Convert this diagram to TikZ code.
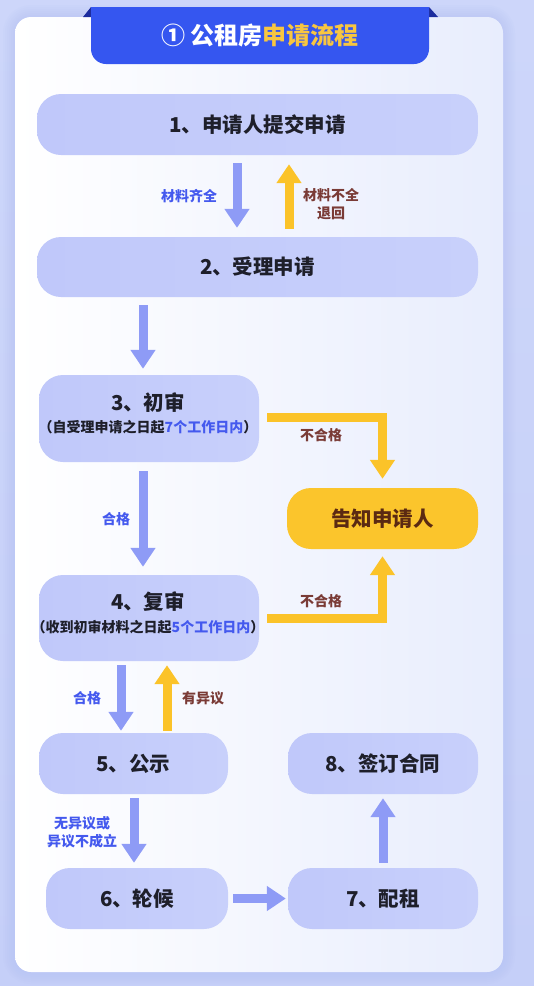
\documentclass[tikz,border=0pt]{standalone}
\usepackage{fontspec}
\setmainfont{Noto Sans CJK SC}
\usetikzlibrary{arrows.meta,calc}
\definecolor{bgblue}{HTML}{C5CFF8}
\definecolor{bgtop}{HTML}{CDD6FA}
\definecolor{boxfill}{HTML}{C0C8FA}
\definecolor{boxfill2}{HTML}{C8D0FB}
\definecolor{arrowblue}{HTML}{8E9BF6}
\definecolor{arrowyellow}{HTML}{FBC329}
\definecolor{labelblue}{HTML}{4459EE}
\definecolor{labelbrown}{HTML}{7A3B36}
\definecolor{notifyfill}{HTML}{FBC52C}
\definecolor{notifytext}{HTML}{5B2A12}
\definecolor{tabblue}{HTML}{3556F0}
\definecolor{tabdark}{HTML}{1C2C9E}
\definecolor{titleyellow}{HTML}{F8C640}
\definecolor{textdark}{HTML}{1E1F2A}
\definecolor{cardend}{HTML}{E8EDFD}
\definecolor{glow}{HTML}{AFBDF5}
\tikzset{
  stepbox/.style={rectangle, rounded corners=24pt, left color=boxfill, right color=boxfill2,
    draw=none, text=textdark, font=\fontsize{20.5}{23}\selectfont\bfseries, align=center, inner sep=0pt},
  notifybox/.style={rectangle, rounded corners=24pt, fill=notifyfill, draw=none, text=notifytext,
    font=\fontsize{20.5}{23}\selectfont\bfseries, inner sep=0pt},
  barrow/.style={draw=arrowblue, line width=9pt, -{Triangle[width=24pt,length=19pt]}},
  yarrow/.style={draw=arrowyellow, line width=9pt, -{Triangle[width=24pt,length=19pt]}, line join=miter},
  bluelbl/.style={text=labelblue, font=\fontsize{14}{18}\selectfont\bfseries, inner sep=0pt, align=center},
  brownlbl/.style={text=labelbrown, font=\fontsize{14}{18}\selectfont\bfseries, inner sep=0pt, align=center},
  subtxt/.style={font=\fontsize{14}{16}\selectfont\bfseries}
}
\begin{document}
\begin{tikzpicture}[x=1pt,y=-1pt]
\useasboundingbox (0,0) rectangle (534,986);
% background
\shade[top color=bgtop, bottom color=bgblue] (0,0) rectangle (534,986);
% card glow
\foreach \d in {12,10,8,6,4,2}{
  \fill[glow, opacity=0.07, rounded corners=16pt+\d pt] (15-\d,17-\d) rectangle (503+\d,972+\d);
}
% card
\shade[left color=white, right color=cardend, rounded corners=16pt] (15,17) rectangle (503,972);
% title tab
\fill[tabdark] (83,17) -- (91,7) -- (91,17) -- cycle;
\fill[tabdark] (429,7) -- (438,17) -- (429,17) -- cycle;
\fill[tabblue] (91,7) -- (429,7) [rounded corners=15pt] -- (429,64) -- (91,64) [sharp corners] -- cycle;
\node[text=white, font=\fontsize{24}{26}\selectfont\bfseries, inner sep=0pt] (title) at (260,35)
  {①\hspace{5pt}公租房{\color{titleyellow}申请流程}};

% boxes
\node[stepbox, minimum width=441pt, minimum height=61pt] (b1) at (257.5,124.5) {1、申请人提交申请};
\node[stepbox, minimum width=441pt, minimum height=60pt] (b2) at (257.5,267) {2、受理申请};
\node[stepbox, minimum width=220pt, minimum height=87pt] (b3) at (149,418.5) {};
\node[text=textdark, font=\fontsize{20.5}{23}\selectfont\bfseries, inner sep=0pt] (b3t) at (148,403) {3、初审};
\node[text=textdark, subtxt, inner sep=0pt] (b3s) at (148,427.5) {（自受理申请之日起{\color{labelblue}7个工作日内}）};
\node[notifybox, minimum width=191pt, minimum height=61pt] (bn) at (382.5,518.5) {告知申请人};
\node[stepbox, minimum width=220pt, minimum height=86pt] (b4) at (149,618) {};
\node[text=textdark, font=\fontsize{20.5}{23}\selectfont\bfseries, inner sep=0pt] (b4t) at (148,602) {4、复审};
\node[text=textdark, subtxt, inner sep=0pt] (b4s) at (148,627.5) {（收到初审材料之日起{\color{labelblue}5个工作日内}）};
\node[stepbox, minimum width=189pt, minimum height=61pt] (b5) at (133.5,763.5) {5、公示};
\node[stepbox, minimum width=182pt, minimum height=61pt] (b6) at (137,898.5) {6、轮候};
\node[stepbox, minimum width=190pt, minimum height=61pt] (b7) at (383,898.5) {7、配租};
\node[stepbox, minimum width=190pt, minimum height=61pt] (b8) at (383,763.5) {8、签订合同};

% connectors
\draw[barrow] ($(b1.south)+(-20.5,8)$) -- ($(b2.north)+(-20.5,-9)$);
\draw[yarrow] ($(b2.north)+(31.5,-8)$) -- ($(b1.south)+(31.5,9)$);
\draw[barrow] ($(b2.south -| b3.north)+(-6,8)$) -- ($(b3.north)+(-6,-6)$);
\draw[barrow] ($(b3.south)+(-6,9)$) -- ($(b4.north)+(-6,-8)$);
\draw[yarrow] ($(b3.east)+(8,-1.5)$) -| ($(bn.north)+(0,-9)$);
\draw[yarrow] ($(b4.east)+(8,0)$) -| ($(bn.south)+(0,7)$);
\draw[barrow] ($(b4.south -| b5.north)+(-12.5,4)$) -- ($(b5.north)+(-12.5,-2)$);
\draw[yarrow] ($(b5.north)+(33.5,-2)$) -- ($(b4.south -| b5.north)+(33.5,4)$);
\draw[barrow] ($(b5.south)+(0.5,4)$) -- ($(b6.north)+(-3,-5)$);
\draw[barrow] ($(b6.east)+(5,0)$) -- ($(b7.west)+(-2,0)$);
\draw[barrow] ($(b7.north)+(0,-5)$) -- ($(b8.south)+(0,4)$);

% labels
\node[bluelbl] (l1) at (189,196) {材料齐全};
\node[brownlbl] (l2) at (331,204) {材料不全\\退回};
\node[brownlbl] (l3) at (321,435) {不合格};
\node[bluelbl] (l4) at (116,519) {合格};
\node[brownlbl] (l5) at (321,601) {不合格};
\node[bluelbl] (l6) at (87,698) {合格};
\node[brownlbl] (l7) at (203,698) {有异议};
\node[bluelbl] (l8) at (82,832) {无异议或\\异议不成立};
\end{tikzpicture}
\end{document}
